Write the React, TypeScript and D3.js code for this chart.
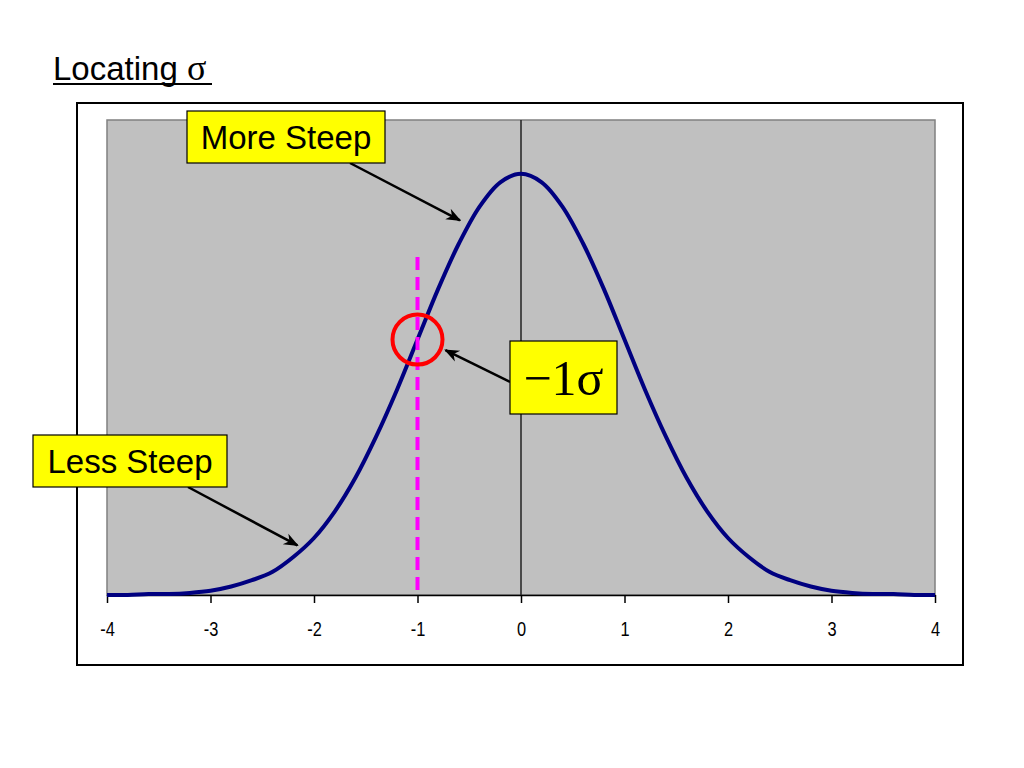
import { useEffect, useRef } from "react";
import * as d3 from "d3";

// curve heights, x from -4 to 4 in 0.2 steps
const xs = d3.range(-4, 4.0001, 0.2).map(v => +v.toFixed(1));
const leftHalf = [0.000, 0.000, 0.001, 0.001, 0.002, 0.004, 0.008, 0.014, 0.022, 0.036,
  0.054, 0.079, 0.111, 0.150, 0.194, 0.242, 0.290, 0.333, 0.368, 0.391, 0.399];
const curveValues = [...leftHalf, ...leftHalf.slice(0, -1).reverse()];
const xTicks = [-4, -3, -2, -1, 0, 1, 2, 3, 4];

interface Callout {
  label: string
  box: [number, number, number, number] // x, y, w, h in px
  from: [number, number] // px
  to: [number, number] // data coords
  font: string
  size: number
}

const callouts: Callout[] = [
  { label: "More Steep", box: [187, 111, 198, 52], from: [350, 163], to: [-0.59, 0.355], font: "Liberation Sans, Arial, sans-serif", size: 33 },
  { label: "Less Steep", box: [33, 435, 194, 52], from: [188, 487], to: [-2.16, 0.047], font: "Liberation Sans, Arial, sans-serif", size: 33 },
  { label: "\u22121\u03c3", box: [510, 341, 107, 73], from: [510, 382], to: [-0.73, 0.232], font: "Liberation Serif, Times New Roman, serif", size: 50 },
];

export default function App() {
  const svgRef = useRef<SVGSVGElement>(null);

  useEffect(() => {
    const svg = d3.select(svgRef.current).html(null);
    const left = 107, right = 935, top = 120, bottom = 595;

    const x = d3.scaleLinear().domain([-4, 4]).range([left, right]);
    const y = d3.scaleLinear().domain([0, 0.45]).range([bottom, top]);

    const defs = svg.append("defs");
    defs.append("marker")
      .attr("id", "arrow")
      .attr("viewBox", "0 0 10 10")
      .attr("refX", 9).attr("refY", 5)
      .attr("markerWidth", 6).attr("markerHeight", 6)
      .attr("markerUnits", "strokeWidth")
      .attr("orient", "auto")
      .append("path").attr("d", "M0,1 L10,5 L0,9 L3,5 Z").attr("fill", "#000");

    // title
    const title = svg.append("text")
      .attr("x", 53).attr("y", 80)
      .style("font-family", "Liberation Sans, Arial, sans-serif")
      .style("font-size", "33px");
    title.append("tspan").text("Locating ");
    title.append("tspan").style("font-family", "Liberation Serif, Times New Roman, serif")
      .style("font-size", "36px").text("\u03c3");
    svg.append("line").attr("x1", 53).attr("x2", 212).attr("y1", 84).attr("y2", 84)
      .attr("stroke", "#000").attr("stroke-width", 2);

    // outer chart frame
    svg.append("rect").attr("x", 77).attr("y", 103).attr("width", 886).attr("height", 562)
      .attr("fill", "#fff").attr("stroke", "#000").attr("stroke-width", 2);

    // plot area
    svg.append("rect").attr("x", left).attr("y", top).attr("width", right - left).attr("height", bottom - top)
      .attr("fill", "#c0c0c0").attr("stroke", "#808080").attr("stroke-width", 1.5);

    // x axis
    const axis = svg.append("g")
      .attr("transform", `translate(0,${bottom})`)
      .call(d3.axisBottom(x).tickValues(xTicks).tickSize(8).tickSizeOuter(0).tickFormat(d => `${d}`.replace("\u2212", "-")));
    axis.select(".domain").attr("stroke", "#000").attr("stroke-width", 1.5);
    axis.selectAll(".tick line").attr("stroke", "#000").attr("stroke-width", 1.5);
    axis.selectAll(".tick text")
      .attr("y", 27).attr("dy", "0.71em")
      .attr("font-family", "Liberation Sans, Arial, sans-serif")
      .attr("font-size", 20).attr("fill", "#000")
      .attr("transform", "scale(0.82,1)");

    // zero line
    svg.append("line").attr("x1", x(0)).attr("x2", x(0)).attr("y1", top).attr("y2", bottom)
      .attr("stroke", "#222").attr("stroke-width", 1.5);

    // curve
    const line = d3.line<number>()
      .x((_, i) => x(xs[i]))
      .y(d => y(d))
      .curve(d3.curveCatmullRom);
    svg.append("path").datum(curveValues)
      .attr("d", line)
      .attr("fill", "none").attr("stroke", "#000080").attr("stroke-width", 4);

    // -1 sigma marker line
    svg.append("line").attr("x1", x(-1)).attr("x2", x(-1)).attr("y1", 257).attr("y2", 590)
      .attr("stroke", "#ff00ff").attr("stroke-width", 4).attr("stroke-dasharray", "13,7");

    // circle at -1 sigma
    svg.append("circle").attr("cx", x(-1)).attr("cy", y(0.242)).attr("r", 25)
      .attr("fill", "none").attr("stroke", "#ff0000").attr("stroke-width", 4);

    // callouts
    callouts.forEach(c => {
      const [bx, by, bw, bh] = c.box;
      svg.append("line")
        .attr("x1", c.from[0]).attr("y1", c.from[1])
        .attr("x2", x(c.to[0])).attr("y2", y(c.to[1]))
        .attr("stroke", "#000").attr("stroke-width", 2.5)
        .attr("marker-end", "url(#arrow)");
      svg.append("rect").attr("x", bx).attr("y", by).attr("width", bw).attr("height", bh)
        .attr("fill", "#ffff00").attr("stroke", "#000").attr("stroke-width", 1.2);
      svg.append("text")
        .attr("x", bx + bw / 2).attr("y", by + bh / 2)
        .attr("text-anchor", "middle").attr("dominant-baseline", "central")
        .style("font-family", c.font).style("font-size", `${c.size}px`)
        .text(c.label);
    });
  }, []);

  return (
    <svg ref={svgRef} width={1024} height={768}
      style={{ position: "absolute", left: 0, top: 0, background: "#fff" }} />
  );
}
